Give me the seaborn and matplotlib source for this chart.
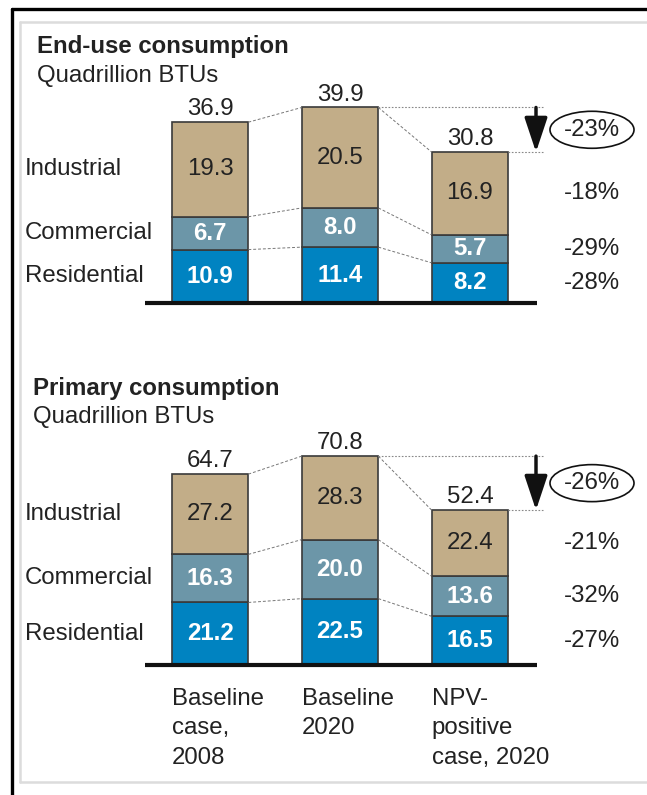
import numpy as np
import matplotlib
matplotlib.use("Agg")
import matplotlib.pyplot as plt
from matplotlib.lines import Line2D
from matplotlib.patches import Ellipse
import seaborn as sns

# ---------------- data ----------------
categories = ["Baseline\ncase,\n2008", "Baseline\n2020", "NPV-\npositive\ncase, 2020"]
segments = ["Residential", "Commercial", "Industrial"]

enduse_res = [10.9, 11.4, 8.2]
enduse_com = [6.7, 8.0, 5.7]
enduse_ind = [19.3, 20.5, 16.9]
enduse_total = [36.9, 39.9, 30.8]
enduse_change = ["-28%", "-29%", "-18%"]
enduse_total_change = "-23%"

primary_res = [21.2, 22.5, 16.5]
primary_com = [16.3, 20.0, 13.6]
primary_ind = [27.2, 28.3, 22.4]
primary_total = [64.7, 70.8, 52.4]
primary_change = ["-27%", "-32%", "-21%"]
primary_total_change = "-26%"

# ---------------- style ----------------
sns.set_style("white")
plt.rcParams["font.family"] = ["Liberation Sans", "DejaVu Sans"]
FS = 17.3
TXT = "#222222"
colors = {"Residential": "#0083C1", "Commercial": "#6C96A8", "Industrial": "#C2AD88"}
value_style = {
    "Residential": dict(color="white", fontweight="bold"),
    "Commercial": dict(color="white", fontweight="bold"),
    "Industrial": dict(color=TXT, fontweight="normal"),
}

W, H = 647, 795
fig = plt.figure(figsize=(W / 100, H / 100), dpi=100)


def px_axes(x0, y0, x1, y1):
    return fig.add_axes([x0 / W, 1 - y1 / H, (x1 - x0) / W, (y1 - y0) / H])


BW = 0.59
XC0 = 210.0   # pixel of category 0 centre
XU = 130.0    # pixels per category step


def panel(ax, res, com, ind, total, change, total_change, y_top_px, y_bot_px, base_px, scale,
          xlabels):
    stack = [res, com, ind]
    bottom = np.zeros(3)
    for name, vals in zip(segments, stack):
        sns.barplot(x=list(range(3)), y=vals, bottom=bottom.copy(), color=colors[name],
                    saturation=1, width=BW, edgecolor="#3a3a3a", linewidth=1.2, ax=ax,
                    native_scale=True)
        bottom = bottom + np.array(vals)
    ax.set_xlim(-(XC0 - 15) / XU, (W - 2 - XC0) / XU)
    ax.set_ylim(-(y_bot_px - base_px) / scale, (base_px - y_top_px) / scale)
    ax.axis("off")

    # values inside segments
    bottom = np.zeros(3)
    mids = []
    for name, vals in zip(segments, stack):
        m = bottom + np.array(vals) / 2
        mids.append(m)
        for i, v in enumerate(vals):
            ax.text(i, m[i], f"{v:.1f}", ha="center", va="center", fontsize=FS,
                    **value_style[name])
        bottom = bottom + np.array(vals)
    tops = bottom
    bounds = [np.array(res), np.array(res) + np.array(com), tops]

    # totals above bars
    for i, t in enumerate(total):
        ax.annotate(f"{t:.1f}", (i, tops[i]), xytext=(0, 5), textcoords="offset points",
                    ha="center", va="baseline", fontsize=FS, color=TXT)

    # segment names at left
    for name, m in zip(segments, mids):
        ax.text(-(XC0 - 25) / XU, m[0], name, ha="left", va="center", fontsize=FS, color=TXT)

    # dashed connectors between bars
    for b in bounds:
        for i in range(2):
            ax.plot([i + BW / 2, i + 1 - BW / 2], [b[i], b[i + 1]], ls=(0, (3, 2)),
                    lw=0.7, color="#777777")

    # baseline
    ax.plot([-0.5, 2.515], [0, 0], color="#111111", lw=3, solid_capstyle="butt", zorder=5)

    # dotted reference lines + arrow
    xr = (543 - XC0) / XU
    ax.plot([1 + BW / 2, xr], [tops[1], tops[1]], ls=(0, (1.5, 1.5)), lw=0.8, color="#888888")
    ax.plot([2 + BW / 2, xr], [tops[2], tops[2]], ls=(0, (1.5, 1.5)), lw=0.8, color="#888888")
    xa = (536 - XC0) / XU
    ax.annotate("", xy=(xa, tops[2]), xytext=(xa, tops[1]),
                arrowprops=dict(arrowstyle="-|>,head_width=0.5,head_length=1.5", lw=2.5,
                                color="#111111", shrinkA=0, shrinkB=0, mutation_scale=14))

    # ellipse with total change
    xe = (592 - XC0) / XU
    ye = (tops[1] + tops[2]) / 2
    ax.add_patch(Ellipse((xe, ye), 84 / XU, 37 / scale, facecolor="none",
                         edgecolor="#111111", lw=1.2, clip_on=False))
    ax.text(xe, ye, total_change, ha="center", va="center", fontsize=FS, color=TXT)

    # per-segment change
    for c, m in zip(change, mids):
        ax.text(xe, m[2], c, ha="center", va="center", fontsize=FS, color=TXT)

    if xlabels:
        for i, lab in enumerate(categories):
            ax.text(i - BW / 2, -(688 - base_px) / scale, lab, ha="left", va="top",
                    fontsize=FS, color=TXT, linespacing=1.44)


ax1 = px_axes(15, 30, W - 2, 320)
panel(ax1, enduse_res, enduse_com, enduse_ind, enduse_total, enduse_change,
      enduse_total_change, 30, 320, 303, 4.9, False)

ax2 = px_axes(15, 370, W - 2, 790)
panel(ax2, primary_res, primary_com, primary_ind, primary_total, primary_change,
      primary_total_change, 370, 790, 665, 2.95, True)

# titles
fig.text(37 / W, 1 - 47 / H, "End-use consumption", fontsize=FS, fontweight="bold",
         color=TXT, va="center")
fig.text(37 / W, 1 - 76 / H, "Quadrillion BTUs", fontsize=FS, color=TXT, va="center")
fig.text(33 / W, 1 - 389 / H, "Primary consumption", fontsize=FS, fontweight="bold",
         color=TXT, va="center")
fig.text(33 / W, 1 - 417 / H, "Quadrillion BTUs", fontsize=FS, color=TXT, va="center")

# frames
gray = "#dcdcdc"
for xs, ys in [([20, W + 5], [22, 22]), ([20, 20], [22, 782]), ([20, W + 5], [782, 782])]:
    fig.add_artist(Line2D([x / W for x in xs], [1 - y / H for y in ys],
                          transform=fig.transFigure, color=gray, lw=1.8))
fig.add_artist(Line2D([12 / W, 1.01], [1 - 9 / H, 1 - 9 / H], transform=fig.transFigure,
                      color="black", lw=2.4))
fig.add_artist(Line2D([12 / W, 12 / W], [-0.01, 1 - 9 / H], transform=fig.transFigure,
                      color="black", lw=2.4))

fig.savefig("out.png", dpi=100, facecolor="white")
